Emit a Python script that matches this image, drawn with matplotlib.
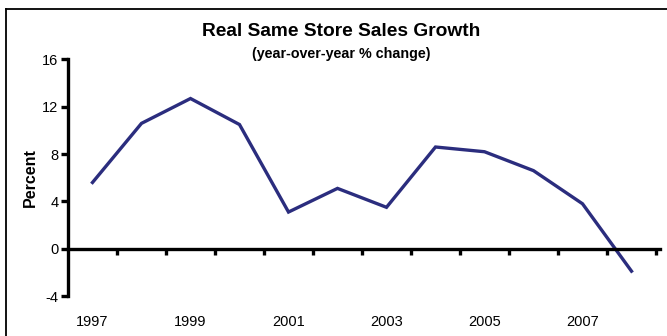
import matplotlib
matplotlib.use("Agg")
import matplotlib.pyplot as plt
from matplotlib.lines import Line2D

plt.rcParams['font.family'] = ['Liberation Sans', 'DejaVu Sans']

years = [1997, 1998, 1999, 2000, 2001, 2002, 2003, 2004, 2005, 2006, 2007, 2008]
growth = [5.6, 10.6, 12.7, 10.5, 3.1, 5.1, 3.5, 8.6, 8.2, 6.6, 3.8, -1.9]
year_labels = ['1997', '', '1999', '', '2001', '', '2003', '', '2005', '', '2007', '']
y_ticks = [-4, 0, 4, 8, 12, 16]

W, H = 667, 336
fig = plt.figure(figsize=(W / 100, H / 100), dpi=100)

# frame around the whole chart (right and bottom edges fall outside)
fig.add_artist(Line2D([6 / W, 6 / W], [0, 1 - 9 / H], transform=fig.transFigure,
                      color='black', lw=1.3))
fig.add_artist(Line2D([6 / W, 1], [1 - 9 / H, 1 - 9 / H], transform=fig.transFigure,
                      color='black', lw=1.3))

left, right = 68 / W, 656 / W
bottom, top = (H - 296) / H, (H - 59.5) / H
ax = fig.add_axes([left, bottom, right - left, top - bottom])

x = list(range(len(years)))
ax.plot(x, growth, color='#2B2D7E', lw=2.4, solid_joinstyle='miter', clip_on=False)

ax.set_xlim(-0.5, len(years) - 0.5)
ax.set_ylim(-4, 16)

for s in ['top', 'right']:
    ax.spines[s].set_visible(False)
ax.spines['left'].set_linewidth(2.4)
ax.spines['bottom'].set_linewidth(2.4)
ax.spines['bottom'].set_position(('data', 0))
ax.spines['bottom'].set_bounds(-0.5, len(years) - 0.42)

ax.set_yticks(y_ticks)
ax.set_yticklabels([str(v) for v in y_ticks])
ax.tick_params(axis='y', direction='out', length=5, width=2.4, labelsize=10.5, pad=2)

# year labels under the categories, tick marks on category boundaries
ax.set_xticks(x)
ax.set_xticklabels(year_labels)
ax.tick_params(axis='x', which='major', length=0, labelsize=10.5, pad=48)
ax.set_xticks([i + 0.5 for i in range(len(years))], minor=True)
ax.tick_params(axis='x', which='minor', direction='out', length=4, width=2.4)

ax.set_ylabel('Percent', fontsize=11.5, fontweight='bold', labelpad=3)

fig.text(341 / W, 1 - 31 / H, 'Real Same Store Sales Growth', ha='center', va='center',
         fontsize=13.8, fontweight='bold')
fig.text(341 / W, 1 - 54 / H, '(year-over-year % change)', ha='center', va='center',
         fontsize=10.3, fontweight='bold')

fig.savefig('out.png', dpi=100)
